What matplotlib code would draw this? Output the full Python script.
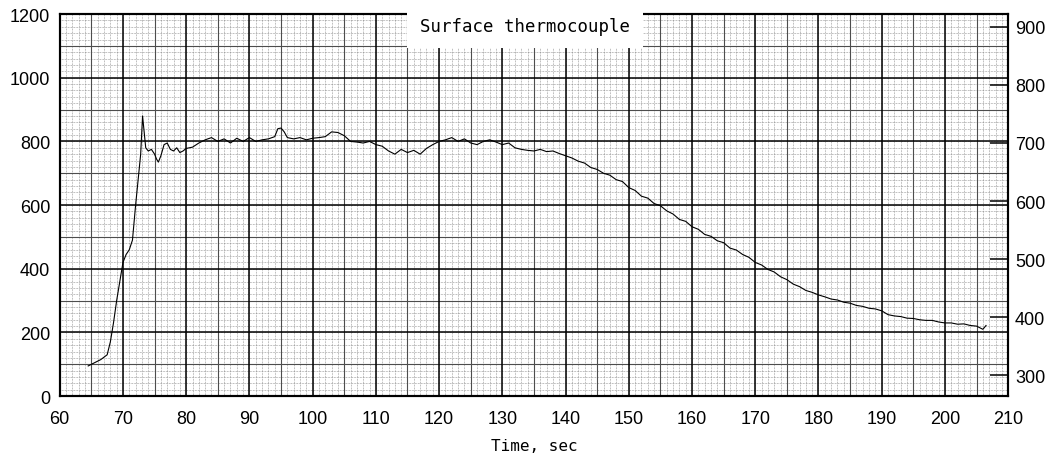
import matplotlib
matplotlib.use("Agg")
import matplotlib.pyplot as plt
import numpy as np

# surface thermocouple trace, time in sec, temperature on left scale
time_s = [64.5, 65.5, 66.5, 67.5, 68.0, 68.5, 69.0, 69.5, 70.0, 70.5,
          71.0, 71.5, 72.0, 72.5, 72.8, 73.1, 73.3, 73.6, 74.0, 74.5,
          75.0, 75.3, 75.6, 76.0, 76.5, 77.0, 77.5, 78.0, 78.5, 79.0,
          79.5, 80.0, 81, 82, 83, 84, 85, 86, 87, 88,
          89, 90, 91, 92, 93, 94, 94.5, 95, 95.5, 96,
          97, 98, 99, 100, 101, 102, 103, 104, 105, 106,
          107, 108, 109, 110, 111, 112, 113, 114, 115, 116,
          117, 118, 119, 120, 121, 122, 123, 124, 125, 126,
          127, 128, 129, 130, 131, 132, 133, 134, 135, 136,
          137, 138, 139, 140, 141, 142, 143, 144, 145, 146,
          147, 148, 149, 150, 151, 152, 153, 154, 155, 156,
          157, 158, 159, 160, 161, 162, 163, 164, 165, 166,
          167, 168, 169, 170, 171, 172, 173, 174, 175, 176,
          177, 178, 179, 180, 181, 182, 183, 184, 185, 186,
          187, 188, 189, 190, 191, 192, 193, 194, 195, 196,
          197, 198, 199, 200, 201, 202, 203, 204, 205, 206,
          206.5]
temp = [95, 105, 115, 130, 170, 230, 300, 360, 420, 445,
        460, 490, 600, 700, 760, 880, 840, 780, 770, 775,
        760, 745, 735, 755, 790, 795, 775, 770, 780, 765,
        770, 778, 782, 795, 805, 812, 800, 808, 795, 810,
        800, 812, 800, 805, 808, 815, 840, 842, 830, 812,
        808, 812, 805, 810, 812, 815, 830, 828, 818, 800,
        798, 795, 800, 790, 785, 770, 760, 775, 765, 772,
        760, 778, 790, 800, 805, 812, 800, 808, 795, 790,
        800, 805, 798, 790, 795, 780, 775, 772, 770, 775,
        768, 770, 762, 755, 748, 738, 732, 718, 712, 700,
        694, 680, 674, 655, 646, 628, 622, 605, 598, 582,
        572, 555, 549, 532, 524, 508, 502, 488, 482, 465,
        459, 445, 436, 420, 412, 398, 390, 375, 366, 352,
        344, 332, 326, 318, 312, 305, 302, 295, 292, 285,
        282, 276, 274, 268, 256, 252, 250, 245, 244, 240,
        238, 238, 233, 230, 230, 226, 227, 222, 220, 210,
        222]

x_ticks = np.arange(60, 211, 10)
left_ticks = np.arange(0, 1201, 200)
right_ticks = np.arange(300, 901, 100)

plt.rcParams['font.family'] = ['Liberation Sans', 'DejaVu Sans']
mono = 'DejaVu Sans Mono'

fig = plt.figure(figsize=(10.48, 4.56), dpi=100)
ax = fig.add_axes([0.057, 0.129, 0.905, 0.838])

ax.set_xlim(60, 210)
ax.set_ylim(0, 1200)

# chart paper: fine dotted grid, mid lines, heavy lines
for xv in np.arange(60, 211, 1):
    ax.axvline(xv, color='0.5', lw=0.5, ls=(0, (1, 1.2)), zorder=1)
for yv in np.arange(0, 1201, 20):
    ax.axhline(yv, color='0.5', lw=0.5, ls=(0, (1, 1.2)), zorder=1)
for xv in np.arange(65, 210, 10):
    ax.axvline(xv, color='0.3', lw=0.8, zorder=2)
for yv in np.arange(100, 1200, 200):
    ax.axhline(yv, color='0.3', lw=0.8, zorder=2)
for xv in x_ticks:
    ax.axvline(xv, color='black', lw=1.1, zorder=2)
for yv in left_ticks:
    ax.axhline(yv, color='black', lw=1.1, zorder=2)

ax.plot(time_s, temp, color='black', lw=0.8, zorder=4)

ax.set_xticks(x_ticks)
ax.set_yticks(left_ticks)
ax.tick_params(axis='both', length=0, labelsize=13, colors='black')
ax.tick_params(axis='x', pad=10)
ax.tick_params(axis='y', pad=7)
ax.set_xlabel('Time, sec', family=mono, fontsize=11.5, labelpad=8)
for sp in ax.spines.values():
    sp.set_linewidth(1.5)

# secondary temperature scale on the right
ax2 = ax.twinx()
ax2.set_ylim(264, 922)
ax2.set_yticks(right_ticks)
ax2.tick_params(axis='y', direction='in', length=13, width=1.1, labelsize=13, pad=5)
for sp in ax2.spines.values():
    sp.set_linewidth(1.5)

fig.text(0.501, 0.94, 'Surface thermocouple', family=mono, fontsize=12.5,
         ha='center', va='center',
         bbox=dict(boxstyle='square,pad=0.75', facecolor='white', edgecolor='none'))

fig.savefig('out.png', dpi=100)
